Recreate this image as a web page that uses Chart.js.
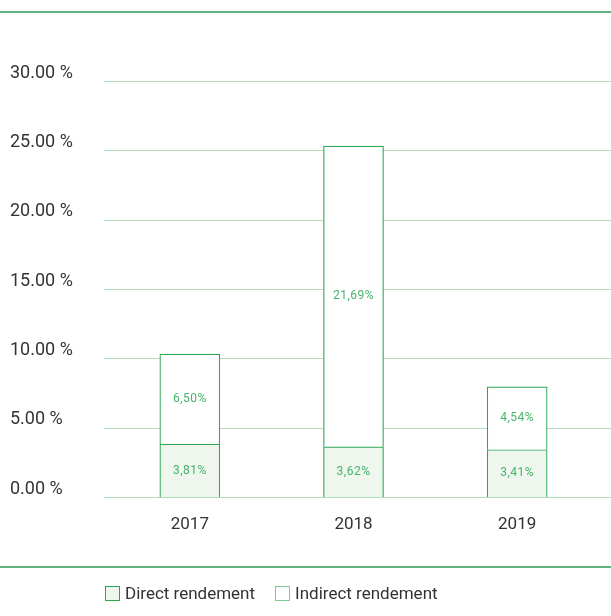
<!DOCTYPE html>
<html>
<head>
<meta charset="utf-8">
<script src="https://cdn.jsdelivr.net/npm/chart.js@4"></script>
<style>
  body { margin: 0; background: #fff; }
  #wrap { position: relative; width: 611px; height: 616px; }
  #legend { position: absolute; left: 105px; top: 583px; font: 17px Roboto, sans-serif; color: #333; display: flex; gap: 20px; }
  #legend span.item { display: flex; align-items: center; }
  #legend span.box { display: inline-block; width: 15px; height: 15px; margin-right: 5px; box-sizing: border-box; }
</style>
</head>
<body>
<div id="wrap">
  <canvas id="chart" width="611" height="616"></canvas>
  <div id="legend"></div>
</div>
<script>
// data
const years = ['2017', '2018', '2019'];
const directValues = [3.81, 3.62, 3.41];
const indirectValues = [6.50, 21.69, 4.54];
const seriesNames = ['Direct rendement', 'Indirect rendement'];

const green = '#2ea656';
const lightGreen = '#7ccb95';
const labelGreen = '#45b46b';

const fmt = v => v.toFixed(2).replace('.', ',') + '%';

// long grid lines + rules at top and bottom
const decor = {
  id: 'decor',
  beforeDatasetsDraw(chart) {
    const ctx = chart.ctx;
    const y = chart.scales.y;
    ctx.save();
    ctx.strokeStyle = '#b2dcba';
    ctx.lineWidth = 1;
    y.ticks.forEach(t => {
      const py = Math.round(y.getPixelForValue(t.value)) + 0.5;
      ctx.beginPath();
      ctx.moveTo(104, py);
      ctx.lineTo(chart.width, py);
      ctx.stroke();
    });
    ctx.strokeStyle = '#2a9a55';
    ctx.lineWidth = 1.5;
    [12, 567].forEach(py => {
      ctx.beginPath();
      ctx.moveTo(0, py);
      ctx.lineTo(chart.width, py);
      ctx.stroke();
    });
    ctx.restore();
  },
  afterDatasetsDraw(chart) {
    const ctx = chart.ctx;
    ctx.save();
    ctx.fillStyle = labelGreen;
    ctx.font = '12px Roboto, sans-serif';
    ctx.letterSpacing = '0.5px';
    ctx.textAlign = 'center';
    ctx.textBaseline = 'middle';
    chart.data.datasets.forEach((ds, i) => {
      chart.getDatasetMeta(i).data.forEach((bar, j) => {
        const p = bar.getProps(['x', 'y', 'base'], true);
        ctx.fillText(fmt(ds.data[j]), p.x, (p.y + p.base) / 2);
      });
    });
    ctx.restore();
  }
};

const chart = new Chart(document.getElementById('chart'), {
  type: 'bar',
  data: {
    labels: years,
    datasets: [
      {
        label: seriesNames[0],
        data: directValues,
        backgroundColor: '#eef6ee',
        borderColor: green,
        borderWidth: 1.2,
        barThickness: 60
      },
      {
        label: seriesNames[1],
        data: indirectValues,
        backgroundColor: '#ffffff',
        borderColor: green,
        borderWidth: 1.2,
        barThickness: 60
      }
    ]
  },
  options: {
    responsive: false,
    animation: false,
    layout: { padding: { top: 81, left: 10, right: 12, bottom: 69 } },
    plugins: { legend: { display: false }, tooltip: { enabled: false } },
    scales: {
      x: {
        stacked: true,
        grid: { display: false },
        border: { display: false },
        ticks: { color: '#333', font: { family: 'Roboto', size: 17 }, padding: 10 },
        afterFit(s) { s.height = 50; }
      },
      y: {
        stacked: true,
        min: 0,
        max: 30,
        grid: { display: false },
        border: { display: false },
        ticks: {
          stepSize: 5,
          color: '#333',
          crossAlign: 'far',
          labelOffset: -8,
          font: { family: 'Roboto', size: 18 },
          callback: v => v.toFixed(2) + ' %'
        },
        afterFit(s) { s.width = 98; }
      }
    }
  },
  plugins: [decor]
});

const legend = document.getElementById('legend');
chart.data.datasets.forEach((ds, i) => {
  const item = document.createElement('span');
  item.className = 'item';
  const box = document.createElement('span');
  box.className = 'box';
  box.style.background = ds.backgroundColor;
  box.style.border = '1.5px solid ' + (i === 0 ? green : lightGreen);
  item.appendChild(box);
  item.appendChild(document.createTextNode(ds.label));
  legend.appendChild(item);
});
</script>
</body>
</html>
